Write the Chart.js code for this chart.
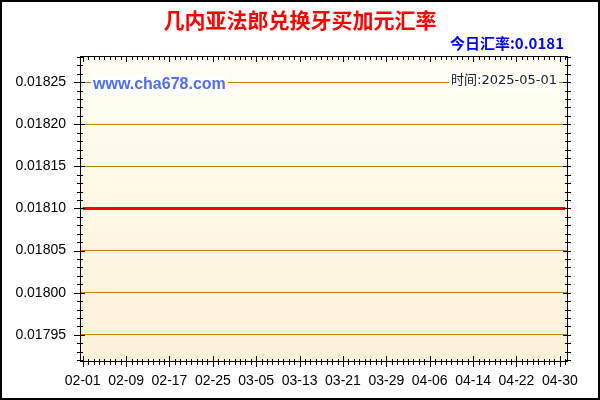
<!DOCTYPE html>
<html>
<head>
<meta charset="utf-8">
<script src="https://cdn.jsdelivr.net/npm/chart.js@4.4.1/dist/chart.umd.min.js"></script>
<style>
  html, body { margin: 0; padding: 0; background: #fff; }
  canvas { display: block; }
</style>
</head>
<body>
<canvas id="rateChart" width="600" height="400"></canvas>
<script>
// daily dates, 2025-02-01 .. 2025-05-01
const days = [
  '02-01','02-02','02-03','02-04','02-05','02-06','02-07','02-08','02-09','02-10',
  '02-11','02-12','02-13','02-14','02-15','02-16','02-17','02-18','02-19','02-20',
  '02-21','02-22','02-23','02-24','02-25','02-26','02-27','02-28',
  '03-01','03-02','03-03','03-04','03-05','03-06','03-07','03-08','03-09','03-10',
  '03-11','03-12','03-13','03-14','03-15','03-16','03-17','03-18','03-19','03-20',
  '03-21','03-22','03-23','03-24','03-25','03-26','03-27','03-28','03-29','03-30','03-31',
  '04-01','04-02','04-03','04-04','04-05','04-06','04-07','04-08','04-09','04-10',
  '04-11','04-12','04-13','04-14','04-15','04-16','04-17','04-18','04-19','04-20',
  '04-21','04-22','04-23','04-24','04-25','04-26','04-27','04-28','04-29','04-30',
  '05-01'
];

// GNF -> JMD rate, flat over the whole period
const rates = [
  0.0181, 0.0181, 0.0181, 0.0181, 0.0181, 0.0181, 0.0181, 0.0181, 0.0181, 0.0181,
  0.0181, 0.0181, 0.0181, 0.0181, 0.0181, 0.0181, 0.0181, 0.0181, 0.0181, 0.0181,
  0.0181, 0.0181, 0.0181, 0.0181, 0.0181, 0.0181, 0.0181, 0.0181, 0.0181, 0.0181,
  0.0181, 0.0181, 0.0181, 0.0181, 0.0181, 0.0181, 0.0181, 0.0181, 0.0181, 0.0181,
  0.0181, 0.0181, 0.0181, 0.0181, 0.0181, 0.0181, 0.0181, 0.0181, 0.0181, 0.0181,
  0.0181, 0.0181, 0.0181, 0.0181, 0.0181, 0.0181, 0.0181, 0.0181, 0.0181, 0.0181,
  0.0181, 0.0181, 0.0181, 0.0181, 0.0181, 0.0181, 0.0181, 0.0181, 0.0181, 0.0181,
  0.0181, 0.0181, 0.0181, 0.0181, 0.0181, 0.0181, 0.0181, 0.0181, 0.0181, 0.0181,
  0.0181, 0.0181, 0.0181, 0.0181, 0.0181, 0.0181, 0.0181, 0.0181, 0.0181, 0.0181
];

const xLabels = ['02-01','02-09','02-17','02-25','03-05','03-13','03-21','03-29','04-06','04-14','04-22','04-30'];
const yTicks = [0.01795, 0.01800, 0.01805, 0.01810, 0.01815, 0.01820, 0.01825];
const yMin = 0.017919;
const yMax = 0.018281;

const titleText = '几内亚法郎兑换牙买加元汇率';
const todayText = '今日汇率:0.0181';
const siteText = 'www.cha678.com';
const dateText = '时间:2025-05-01';

// background + frame, ticks and the text overlays
const decor = {
  id: 'decor',
  beforeDraw(chart) {
    const { ctx, chartArea: a } = chart;
    ctx.save();
    ctx.fillStyle = '#fff';
    ctx.fillRect(0, 0, chart.width, chart.height);
    const g = ctx.createLinearGradient(0, a.top, 0, a.bottom);
    g.addColorStop(0, '#fffff4');
    g.addColorStop(1, '#fdf1d8');
    ctx.fillStyle = g;
    ctx.fillRect(a.left, a.top, a.right - a.left, a.bottom - a.top);
    ctx.restore();
  },
  afterDraw(chart) {
    const { ctx, chartArea: a } = chart;
    const xs = chart.scales.x, ys = chart.scales.y;
    ctx.save();

    // plot frame
    ctx.strokeStyle = '#000';
    ctx.lineWidth = 1;
    ctx.strokeRect(a.left + 0.5, a.top + 0.5, a.right - a.left - 1, a.bottom - a.top);

    // day ticks on bottom / top
    ctx.beginPath();
    days.forEach((d, i) => {
      const x = Math.round(xs.getPixelForValue(i)) + 0.5;
      const major = xLabels.includes(d);
      ctx.moveTo(x, a.bottom - (major ? 5 : 2));
      ctx.lineTo(x, a.bottom + (major ? 6 : 4));
      ctx.moveTo(x, a.top);
      ctx.lineTo(x, a.top + (major ? 6 : 4));
    });
    // value ticks on left / right
    for (let k = Math.ceil(yMin * 100000); k <= Math.floor(yMax * 100000); k++) {
      const y = Math.round(ys.getPixelForValue(k / 100000)) + 0.5;
      const major = k % 5 === 0;
      ctx.moveTo(a.left - (major ? 6 : 3), y);
      ctx.lineTo(a.left + (major ? 5 : 3), y);
      ctx.moveTo(a.right - (major ? 5 : 3), y);
      ctx.lineTo(a.right + 3, y);
    }
    ctx.stroke();

    // title
    ctx.fillStyle = '#ff0000';
    ctx.font = 'bold 21px "Noto Sans CJK SC", sans-serif';
    ctx.textAlign = 'center';
    ctx.textBaseline = 'middle';
    ctx.fillText(titleText, 300, 20);

    // today's rate
    ctx.fillStyle = '#0000ff';
    ctx.font = 'bold 15px "Noto Sans CJK SC", Arial, sans-serif';
    ctx.textAlign = 'right';
    ctx.fillText(todayText, 564, 43);

    // site watermark
    ctx.font = 'bold 16px "Liberation Sans", Arial, sans-serif';
    ctx.textAlign = 'left';
    let w = ctx.measureText(siteText).width;
    ctx.fillStyle = '#fff';
    ctx.fillRect(91, 75, w + 4, 20);
    ctx.fillStyle = '#4f6ef5';
    ctx.fillText(siteText, 93, 85);

    // date stamp
    ctx.font = '13px "DejaVu Sans", "Noto Sans CJK SC", sans-serif';
    w = ctx.measureText(dateText).width;
    ctx.fillStyle = '#fffff8';
    ctx.fillRect(557 - w - 2, 72, w + 4, 18);
    ctx.fillStyle = '#1a1a2a';
    ctx.textAlign = 'right';
    ctx.fillText(dateText, 557, 81);

    // outer border
    ctx.strokeStyle = '#000';
    ctx.lineWidth = 2;
    ctx.strokeRect(1, 1, chart.width - 2, chart.height - 2);
    ctx.restore();
  }
};

const ctx = document.getElementById('rateChart').getContext('2d');
new Chart(ctx, {
  type: 'line',
  data: {
    labels: days,
    datasets: [{
      data: rates,
      borderColor: '#ff0000',
      borderWidth: 3,
      pointRadius: 0,
      tension: 0,
      fill: false
    }]
  },
  options: {
    responsive: false,
    animation: false,
    layout: { padding: { top: 56, right: 32, left: 0, bottom: 0 } },
    plugins: { legend: { display: false }, tooltip: { enabled: false } },
    scales: {
      x: {
        type: 'category',
        offset: true,
        grid: { display: false, drawTicks: false },
        border: { display: false },
        ticks: {
          autoSkip: false,
          maxRotation: 0,
          minRotation: 0,
          padding: 12,
          color: '#000',
          font: { family: 'Arial', size: 14 },
          callback: (v, i) => xLabels.includes(days[i]) ? days[i] : ''
        },
        afterFit: s => { s.height = 39; }
      },
      y: {
        min: yMin,
        max: yMax,
        afterBuildTicks: s => { s.ticks = yTicks.map(v => ({ value: v })); },
        grid: { color: '#b8860b', lineWidth: 1, drawTicks: false },
        border: { display: false },
        ticks: {
          padding: 14,
          color: '#000',
          font: { family: 'Arial', size: 14 },
          callback: v => v.toFixed(5)
        },
        afterFit: s => { s.width = 80; }
      }
    }
  },
  plugins: [decor]
});
</script>
</body>
</html>
